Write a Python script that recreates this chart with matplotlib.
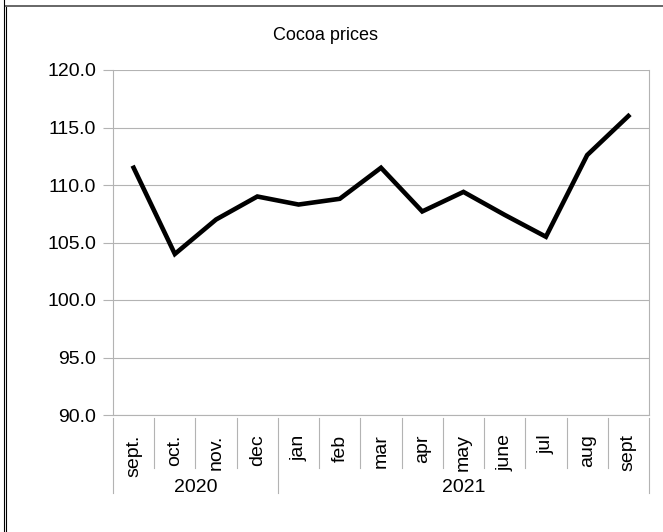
import matplotlib
matplotlib.use('Agg')
import matplotlib.pyplot as plt
from matplotlib.lines import Line2D

plt.rcParams['font.family'] = ['Liberation Sans', 'DejaVu Sans']

# data
months = ['sept.', 'oct.', 'nov.', 'dec', 'jan', 'feb', 'mar', 'apr', 'may', 'june', 'jul', 'aug', 'sept']
prices = [111.5, 104.0, 107.0, 109.0, 108.3, 108.8, 111.5, 107.7, 109.4, 107.4, 105.5, 112.6, 116.0]
years = ['2020', '2021']
months_per_year = [4, 9]
y_ticks = [90.0, 95.0, 100.0, 105.0, 110.0, 115.0, 120.0]

W, H = 663, 532
grid_col = '#b3b3b3'

fig = plt.figure(figsize=(W / 100, H / 100), dpi=100)
# plot area in pixels: x 113..649, y 70..415
ax = fig.add_axes([113 / W, 1 - 415 / H, (649 - 113) / W, (415 - 70) / H])

x = list(range(len(months)))
ax.plot(x, prices, color='black', lw=3.3, solid_joinstyle='miter', zorder=3)

ax.set_xlim(-0.5, len(months) - 0.5)
ax.set_ylim(y_ticks[0], y_ticks[-1])
ax.set_yticks(y_ticks)
ax.set_yticklabels([f'{v:.1f}' for v in y_ticks])
ax.yaxis.grid(True, color=grid_col, lw=0.8)
ax.set_axisbelow(True)

for s in ['left', 'right', 'bottom']:
    ax.spines[s].set_color(grid_col)
    ax.spines[s].set_linewidth(0.8)
ax.spines['top'].set_visible(False)

ax.tick_params(axis='y', length=7.2, width=0.8, color=grid_col, pad=5, labelsize=14)
ax.set_xticks(x)
ax.set_xticklabels(months, rotation=90, va='top', ha='center', fontsize=14)
ax.tick_params(axis='x', length=0, pad=14)

# category separators under the axis
axh = 415 - 70
tr = ax.get_xaxis_transform()
month_bot = -(468 - 415) / axh
year_bot = -(493 - 415) / axh
bounds = [0]
for n in months_per_year:
    bounds.append(bounds[-1] + n)
for i in range(len(months) + 1):
    yb = year_bot if i in bounds else month_bot
    ax.plot([i - 0.5, i - 0.5], [-3 / axh, yb], color=grid_col, lw=0.8,
            transform=tr, clip_on=False)

for k, yr in enumerate(years):
    xc = (bounds[k] + bounds[k + 1] - 1) / 2
    ax.text(xc, -(487 - 415) / axh, yr, transform=tr, ha='center', va='center', fontsize=14)

fig.text((273 + 378) / 2 / W, 1 - 35 / H, 'Cocoa prices', ha='center', va='center', fontsize=13)

# outer frame
fig.add_artist(Line2D([3.5 / W, 3.5 / W], [0, 1], color='black', lw=0.8))
fig.add_artist(Line2D([6 / W, 6 / W], [0, 1 - 6 / H], color='black', lw=0.8))
fig.add_artist(Line2D([6 / W, 1], [1 - 6 / H, 1 - 6 / H], color='#666666', lw=1.4))

fig.savefig('out.png', dpi=100)
